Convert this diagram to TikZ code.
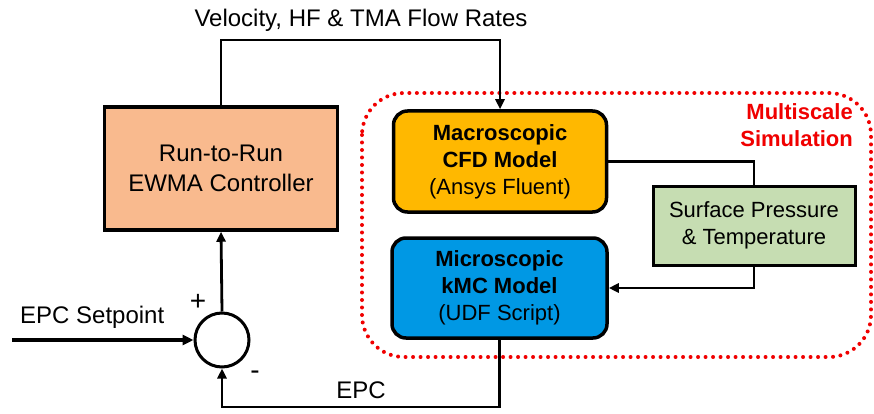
\documentclass[tikz,border=0pt]{standalone}
\usepackage{fontspec}
\setmainfont{Liberation Sans}
\usetikzlibrary{arrows.meta}
\definecolor{peach}{RGB}{249,186,142}
\definecolor{amber}{RGB}{255,184,0}
\definecolor{skyblue}{RGB}{0,152,228}
\definecolor{sage}{RGB}{198,221,178}
\definecolor{simred}{RGB}{240,0,0}
\tikzset{
  blk/.style={draw=black, line width=3.5pt, align=center, inner sep=0pt},
  big/.style={font=\fontsize{24}{30}\selectfont},
  mid/.style={font=\fontsize{22}{27}\selectfont},
  wire/.style={draw=black, line width=2.8pt},
  arr/.style={wire, -{Triangle[length=10pt,width=9pt]}},
  lbl/.style={inner sep=0pt, font=\fontsize{24}{28}\selectfont},
  sign/.style={inner sep=0pt, font=\fontsize{28}{30}\selectfont},
}
\begin{document}
\begin{tikzpicture}[x=1pt,y=-1pt]
\useasboundingbox (0,0) rectangle (874,414);

% multiscale region
\draw[simred, line width=4pt, line cap=round, dash pattern=on 0pt off 7.5pt, rounded corners=42]
  (362,93) rectangle (871,357);
\node[mid, text=simred, align=right, anchor=north east, inner sep=0pt]
  (mslbl) at (853,103) {\textbf{Multiscale}\\\textbf{Simulation}};

% blocks
\node[blk, big, fill=peach, minimum width=233pt, minimum height=123pt]
  (ctrl) at (221,168.5) {Run-to-Run\\EWMA Controller};
\node[blk, mid, fill=amber, rounded corners=14pt, minimum width=213pt, minimum height=101pt]
  (cfd) at (500,161.5) {\textbf{Macroscopic}\\\textbf{CFD Model}\\(Ansys Fluent)};
\node[blk, mid, fill=skyblue, rounded corners=14pt, minimum width=215pt, minimum height=100pt]
  (kmc) at (499.5,288) {\textbf{Microscopic}\\\textbf{kMC Model}\\(UDF Script)};
\node[blk, mid, fill=sage, minimum width=202pt, minimum height=79pt, line width=3pt]
  (spt) at (754,225.5) {Surface Pressure\\\& Temperature};
\node[draw=black, line width=3pt, circle, minimum size=54pt, inner sep=0pt]
  (sum) at (222,340) {};

% labels
\node[lbl] (flow) at (361,20) {Velocity, HF \& TMA Flow Rates};
\node[lbl, anchor=base west] (sp) at (20,323) {EPC Setpoint};
\node[lbl] (epc) at (361,390) {EPC};
\node[sign] (plus) at (198,302) {+};
\node[sign] (minus) at (255,375) {-};

% connectors
\coordinate (spin) at (12,340);
\draw[arr] (ctrl.north) -- (ctrl.north |- 0,40) -| (cfd.north);
\draw[wire] (cfd.east) -| (spt.north);
\draw[arr] (spt.south) |- (kmc.east);
\draw[arr] (kmc.south) -- (kmc.south |- 0,407) -| (sum.south);
\draw[arr] (sum.north) -- (ctrl.south);
\draw[wire, line width=4pt, -{Triangle[length=11pt,width=10pt]}] (spin) -- (sum.west);
\end{tikzpicture}
\end{document}
